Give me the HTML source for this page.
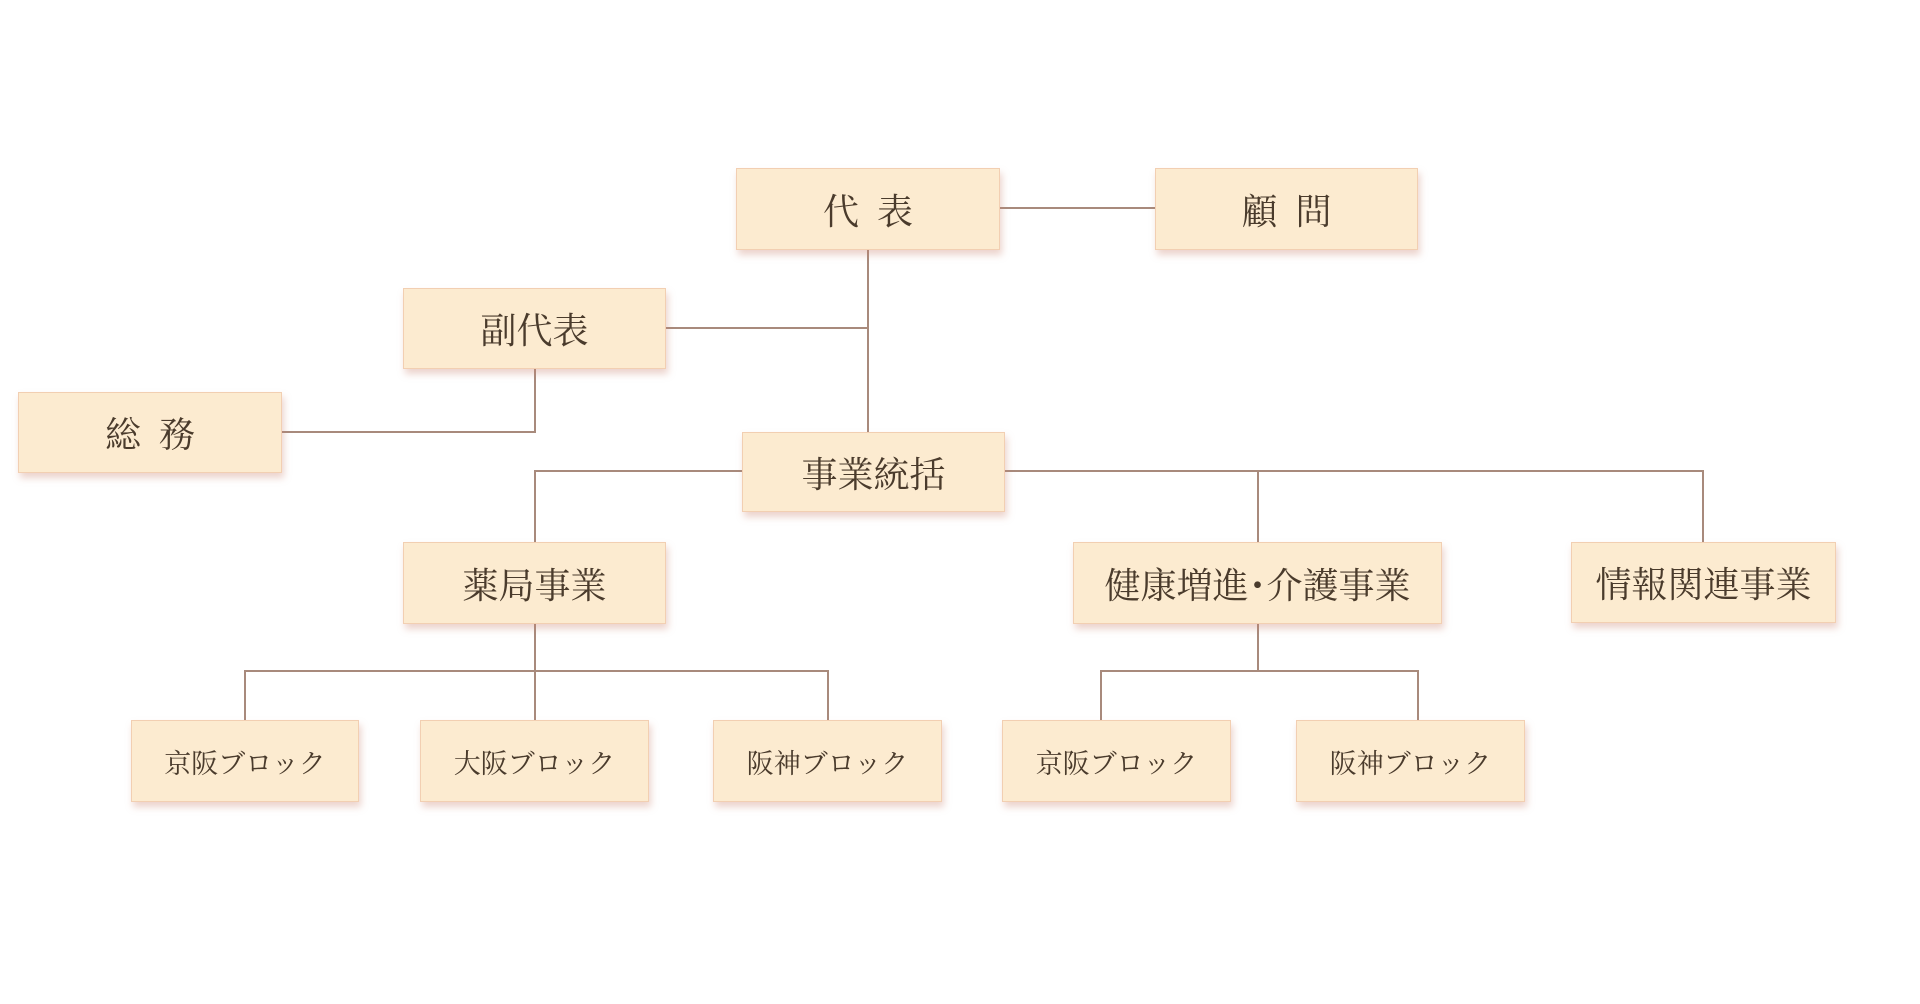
<!DOCTYPE html>
<html><head><meta charset="utf-8"><style>
body{margin:0;width:1920px;height:1004px;background:#fff;position:relative;overflow:hidden;font-family:"Liberation Serif","Noto Serif CJK SC",serif;}
.b{position:absolute;background:#fcebd0;border:1px solid #f2cfb2;box-sizing:border-box;box-shadow:2px 5px 7px rgba(200,130,110,0.35);display:flex;align-items:center;justify-content:center;color:#4a3b2c;font-size:36px;}
.s{font-size:27px;}
.l{position:absolute;background:#a88a7c;}
.h{height:2px;}.v{width:2px;}
</style></head><body>
<div class="l h" style="left:1000px;top:207px;width:155px"></div>
<div class="l v" style="left:867px;top:250px;height:182px"></div>
<div class="l h" style="left:666px;top:327px;width:202px"></div>
<div class="l v" style="left:534px;top:369px;height:64px"></div>
<div class="l h" style="left:282px;top:431px;width:254px"></div>
<div class="l h" style="left:535px;top:470px;width:207px"></div>
<div class="l v" style="left:534px;top:470px;height:72px"></div>
<div class="l h" style="left:1005px;top:470px;width:699px"></div>
<div class="l v" style="left:1257px;top:470px;height:73px"></div>
<div class="l v" style="left:1702px;top:470px;height:73px"></div>
<div class="l v" style="left:534px;top:624px;height:96px"></div>
<div class="l h" style="left:245px;top:670px;width:584px"></div>
<div class="l v" style="left:244px;top:670px;height:50px"></div>
<div class="l v" style="left:827px;top:670px;height:50px"></div>
<div class="l v" style="left:1257px;top:624px;height:47px"></div>
<div class="l h" style="left:1101px;top:670px;width:318px"></div>
<div class="l v" style="left:1100px;top:670px;height:50px"></div>
<div class="l v" style="left:1417px;top:670px;height:50px"></div>

<div class="b" style="left:736px;top:168px;width:264px;height:82px">代&nbsp;&nbsp;表</div>
<div class="b" style="left:1155px;top:168px;width:263px;height:82px">顧&nbsp;&nbsp;問</div>
<div class="b" style="left:403px;top:288px;width:263px;height:81px">副代表</div>
<div class="b" style="left:18px;top:392px;width:264px;height:81px">総&nbsp;&nbsp;務</div>
<div class="b" style="left:742px;top:432px;width:263px;height:80px">事業統括</div>
<div class="b" style="left:403px;top:542px;width:263px;height:82px">薬局事業</div>
<div class="b" style="left:1073px;top:542px;width:369px;height:82px">健康増進･介護事業</div>
<div class="b" style="left:1571px;top:542px;width:265px;height:81px">情報関連事業</div>
<div class="b s" style="left:131px;top:720px;width:228px;height:82px">京阪ブロック</div>
<div class="b s" style="left:420px;top:720px;width:229px;height:82px">大阪ブロック</div>
<div class="b s" style="left:713px;top:720px;width:229px;height:82px">阪神ブロック</div>
<div class="b s" style="left:1002px;top:720px;width:229px;height:82px">京阪ブロック</div>
<div class="b s" style="left:1296px;top:720px;width:229px;height:82px">阪神ブロック</div>
</body></html>
